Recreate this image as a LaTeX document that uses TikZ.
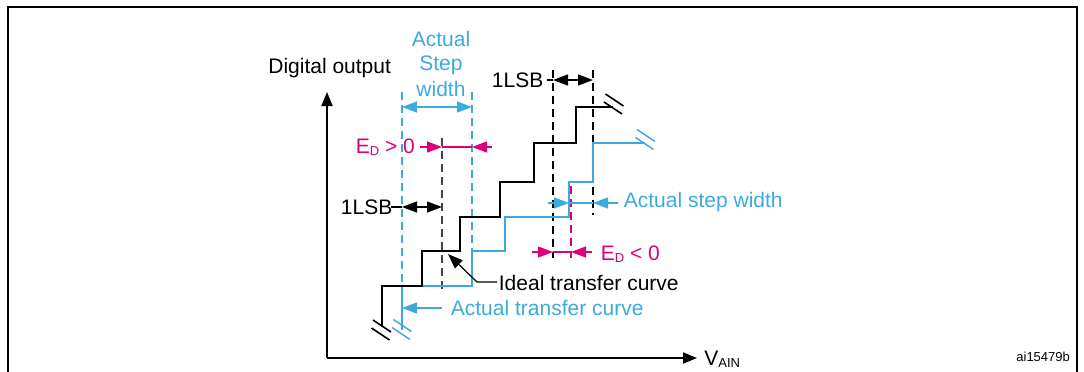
\documentclass[tikz,border=0pt]{standalone}
\usepackage{fontspec}
\setmainfont{Liberation Sans}
\usetikzlibrary{arrows.meta}
\definecolor{stblue}{RGB}{60,170,222}
\definecolor{stmag}{RGB}{218,0,122}
\definecolor{dkgray}{RGB}{68,68,68}
\newcommand{\mysub}[1]{\raisebox{-1pt}{\fontsize{6.5}{7}\selectfont #1}}
\begin{document}
\begin{tikzpicture}[x=0.5pt,y=-0.5pt,
  lbl/.style={inner sep=0pt, font=\fontsize{10.5}{12.6}\selectfont},
  small/.style={inner sep=0pt, font=\fontsize{6.5}{8}\selectfont},
  tip/.style={-{Triangle[length=7.5pt,width=5.5pt]}},
  dtip/.style={{Triangle[length=7.5pt,width=5.5pt]}-{Triangle[length=7.5pt,width=5.5pt]}},
  axis/.style={line width=0.9pt,-{Triangle[length=7pt,width=5.5pt]}},
  thinl/.style={line width=0.6pt},
  ideal/.style={line width=0.9pt, black},
  actual/.style={line width=0.75pt, stblue},
  dsh/.style={line width=0.7pt, dash pattern=on 4pt off 2.5pt},
  brk/.pic={\draw (-9,-6)--(9,6); \draw (-10.5,2)--(7.5,14);}
]
\useasboundingbox (0,0) rectangle (1084,371);
% frame
\draw[line width=0.85pt] (8,372) -- (8,7) -- (1077,7) -- (1077,372);

% axes
\coordinate (O) at (327,358);
\coordinate (Ytip) at (327,92);
\coordinate (Xtip) at (697,358);
\draw[axis] (O) -- (Ytip);
\draw[axis] (O) -- (Xtip);

% labels
\node[lbl, anchor=base west] (ylab) at (268,73) {Digital output};
\node[lbl, anchor=base west] (xlab) at (704,365) {V\mysub{AIN}};
\node[small, anchor=base west] (fid) at (1016,361) {ai15479b};
\node[lbl, stblue, anchor=base] (asw1) at (441,46) {Actual};
\node[lbl, stblue, anchor=base] (asw2) at (441,70) {Step};
\node[lbl, stblue, anchor=base] (asw3) at (441,96) {width};
\node[lbl, stmag, anchor=base west] (edp) at (355.5,153) {E\mysub{D} > 0};
\node[lbl, anchor=base west] (lsbA) at (340.5,214) {1LSB};
\node[lbl, anchor=base west] (lsbB) at (491.5,87) {1LSB};
\node[lbl, stblue, anchor=base west] (asw) at (623.5,207) {Actual step width};
\node[lbl, stmag, anchor=base west] (edn) at (600.5,260) {E\mysub{D} < 0};
\node[lbl, anchor=base west] (itc) at (498.5,290) {Ideal transfer curve};
\node[lbl, stblue, anchor=base west] (atc) at (450.5,315) {Actual transfer curve};

% dashed guide lines
\coordinate (bdL) at (402,92);  \coordinate (bdLb) at (402,286);
\coordinate (bdR) at (472,92);  \coordinate (bdRb) at (472,251);
\coordinate (kd) at (442,138);  \coordinate (kdb) at (442,290);
\coordinate (rdA) at (553,70);  \coordinate (rdAb) at (553,258);
\coordinate (rdB) at (593,70);  \coordinate (rdBb) at (593,215);
\coordinate (md) at (571,186);  \coordinate (mdb) at (571,258);
\draw[dsh, stblue] (bdL) -- (bdLb);
\draw[dsh, stblue] (bdR) -- (bdRb);
\draw[dsh, dkgray] (kd) -- (kdb);
\draw[dsh, black] (rdA) -- (rdAb);
\draw[dsh, black] (rdB) -- (rdBb);
\draw[dsh, stmag] (md) -- (mdb);

% actual transfer curve
\draw[actual] (402,330) -- (402,286) -- (472,286) -- (472,251) -- (505,251) -- (505,217)
  -- (569,217) -- (569,182) -- (593,182) -- (593,143) -- (645,143);
% ideal transfer curve
\draw[ideal] (382,327) -- (382,286) -- (422,286) -- (422,251) -- (460,251) -- (460,217)
  -- (500,217) -- (500,182) -- (534,182) -- (534,143) -- (576,143) -- (576,107) -- (613,107);

% break marks
\pic[black, line width=0.8pt] at (382,326) {brk};
\pic[stblue, line width=0.7pt] at (402.5,325.5) {brk};
\pic[black, line width=0.8pt] at (614.5,100) {brk};
\pic[stblue, line width=0.7pt] at (646,135.5) {brk};

% Actual step width (top)
\coordinate (swL) at (402,107); \coordinate (swR) at (472,107);
\draw[thinl, stblue, dtip] (swL) -- (swR);

% E_D > 0
\coordinate (epA) at (420,147); \coordinate (epB) at (442,147);
\coordinate (epC) at (472,147); \coordinate (epD) at (492,147);
\draw[thinl, stmag, tip] (epA) -- (epB);
\draw[thinl, stmag] (epB) -- (epC);
\draw[thinl, stmag, tip] (epD) -- (epC);

% 1LSB left
\coordinate (lA) at (391,207); \coordinate (lB) at (402,207); \coordinate (lC) at (442,207);
\draw[thinl] (lA) -- (lB);
\draw[thinl, dtip] (lB) -- (lC);

% 1LSB top
\coordinate (tA) at (547,80); \coordinate (tB) at (553,80); \coordinate (tC) at (593,80);
\draw[thinl] (tA) -- (tB);
\draw[thinl, dtip] (tB) -- (tC);

% Actual step width (right)
\coordinate (rA) at (548,203); \coordinate (rB) at (569,203);
\coordinate (rC) at (593,203); \coordinate (rD) at (618,203);
\draw[thinl, stblue, tip] (rA) -- (rB);
\draw[thinl, stblue] (rB) -- (rC);
\draw[thinl, stblue, tip] (rD) -- (rC);

% E_D < 0
\coordinate (nA) at (532,252); \coordinate (nB) at (553,252);
\coordinate (nC) at (571,252); \coordinate (nD) at (592,252);
\draw[thinl, stmag, tip] (nA) -- (nB);
\draw[thinl, stmag] (nB) -- (nC);
\draw[thinl, stmag, tip] (nD) -- (nC);

% Ideal transfer curve leader
\coordinate (iA) at (497,282); \coordinate (iB) at (477,282); \coordinate (iT) at (448,254);
\draw[thinl, tip] (iA) -- (iB) -- (iT);

% Actual transfer curve leader
\coordinate (aA) at (442,308); \coordinate (aT) at (402,308);
\draw[thinl, stblue, tip] (aA) -- (aT);
\end{tikzpicture}
\end{document}
